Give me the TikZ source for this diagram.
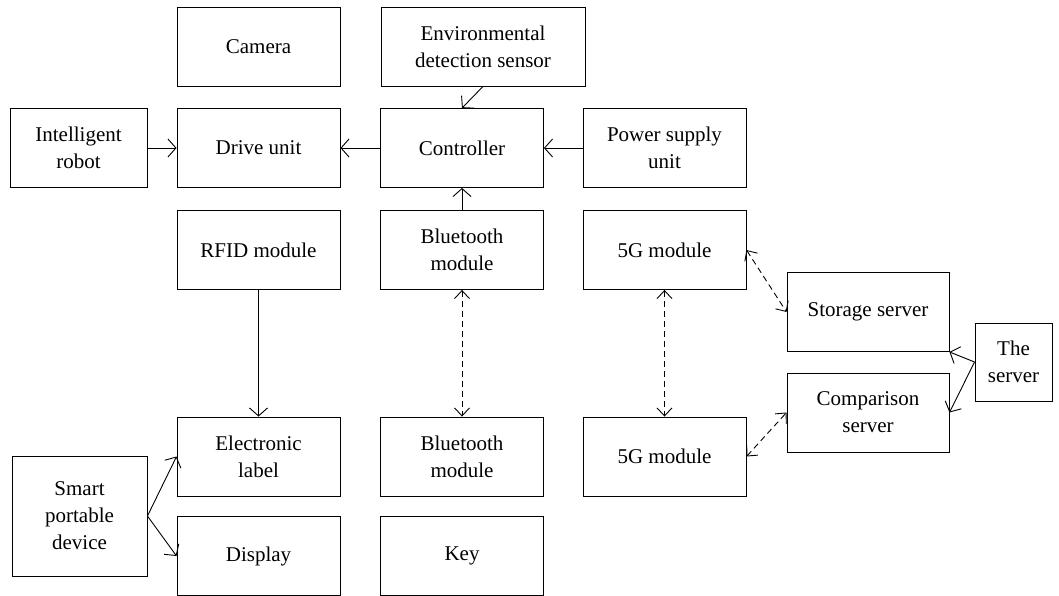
\documentclass[tikz,border=0pt]{standalone}
\usepackage{fontspec}
\setmainfont{Liberation Serif}
\usetikzlibrary{arrows.meta}

\tikzset{every picture/.style={line width=0.9pt},
  blk/.style={draw, fill=white, minimum width=163pt, minimum height=79pt, inner sep=2pt,
    align=center, font=\fontsize{21}{27}\selectfont},
  arr/.style={-{Straight Barb[length=8pt,width=18pt]}},
  darr/.style={{Straight Barb[length=8pt,width=15pt]}-{Straight Barb[length=8pt,width=15pt]}, dash pattern={on 6pt off 4pt}}}

\begin{document}
\begin{tikzpicture}[x=1pt,y=1pt,yscale=-1,xscale=1]
		\useasboundingbox (0,0) rectangle (1059,596);

		% Row 1
		\node [blk] (camera) at (258.5,46.5) {Camera};
		\node [blk, minimum width=204pt] (sensor) at (483,46.5) {Environmental\\detection sensor};
		% Row 2
		\node [blk, minimum width=137pt] (robot) at (78.5,148) {Intelligent\\robot};
		\node [blk] (drive) at (258.5,148) {Drive unit};
		\node [blk] (ctrl) at (462,148) {Controller};
		\node [blk] (power) at (664.5,148) {Power supply\\unit};
		% Row 3
		\node [blk] (rfid) at (258.5,250) {RFID module};
		\node [blk] (btup) at (462,250) {Bluetooth\\module};
		\node [blk] (fgup) at (664.5,250) {5G module};
		% Servers
		\node [blk, minimum width=162pt] (storage) at (868,312) {Storage server};
		\node [blk, minimum width=162pt] (compare) at (868,412.5) {Comparison\\server};
		\node [blk, minimum width=77pt, minimum height=78pt] (server) at (1013.5,362) {The\\server};
		% Row 4
		\node [blk] (elabel) at (258.5,456.5) {Electronic\\label};
		\node [blk] (btdown) at (462,456.5) {Bluetooth\\module};
		\node [blk] (fgdown) at (664.5,456.5) {5G module};
		\node [blk, minimum width=135pt, minimum height=120pt] (smart) at (79.5,516) {Smart\\portable\\device};
		% Row 5
		\node [blk] (display) at (258.5,556) {Display};
		\node [blk] (key) at (462,556) {Key};

		% Solid connectors
		\draw [arr] (sensor.south) -- (ctrl.north);
		\draw [arr] (robot.east) -- (drive.west);
		\draw [arr] (ctrl.west) -- (drive.east);
		\draw [arr] (power.west) -- (ctrl.east);
		\draw [arr] (btup.north) -- (ctrl.south);
		\draw [arr] (rfid.south) -- (elabel.north);
		\draw [arr] (smart.east) -- (elabel.west);
		\draw [arr] (smart.east) -- (display.west);
		\draw [arr] (server.west) -- (storage.south east);
		\draw [arr] (server.west) -- (compare.east);

		% Dashed links
		\draw [darr] (btup.south) -- (btdown.north);
		\draw [darr] (fgup.south) -- (fgdown.north);
		\draw [darr] (fgup.east) -- (storage.west);
		\draw [darr] (fgdown.east) -- (compare.west);
	\end{tikzpicture}
\end{document}
